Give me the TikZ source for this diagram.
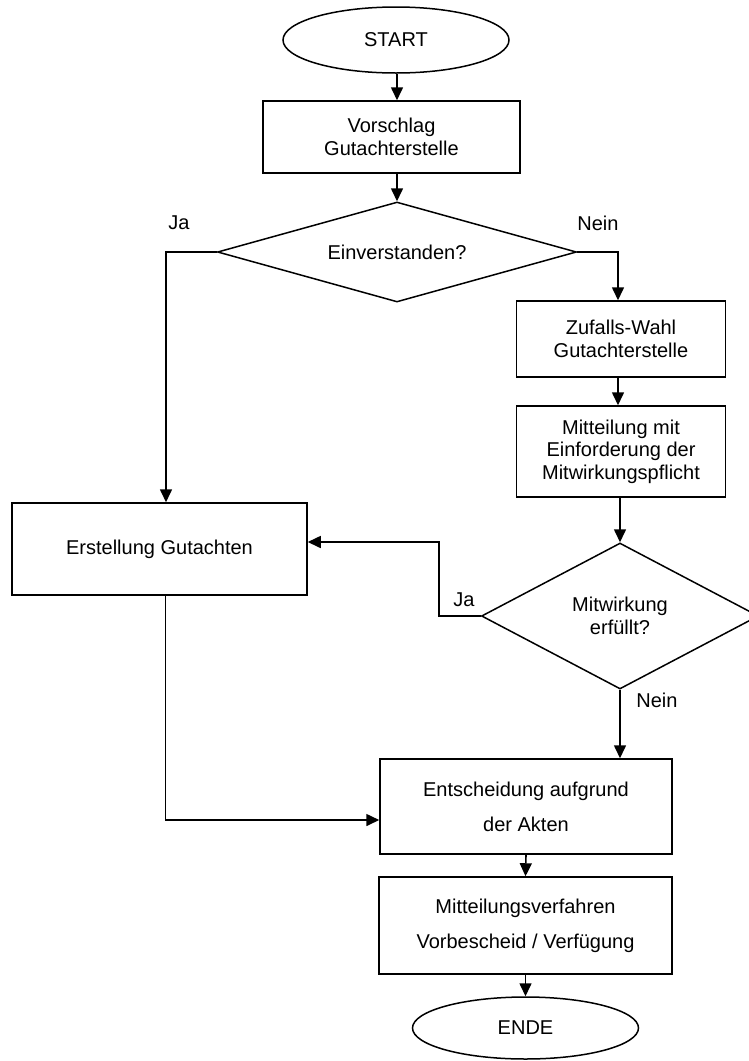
\documentclass[tikz,border=0pt]{standalone}
\usepackage{fontspec}
\setmainfont{Liberation Sans}
\usetikzlibrary{arrows.meta,shapes.geometric}
\begin{document}
\begin{tikzpicture}[x=1pt,y=-1pt,
  line width=1.6pt,
  base/.style={draw, line width=1.5pt, inner sep=0pt, align=center,
    font=\fontsize{20}{22.5}\selectfont},
  box/.style={base, rectangle},
  term/.style={base, ellipse},
  dec/.style={base, diamond},
  lbl/.style={inner sep=0pt, font=\fontsize{20}{22.5}\selectfont},
  arr/.style={-{Triangle[length=13pt,width=12pt]}}]
\clip (0,0) rectangle (749,1061);
\fill[white] (0,0) rectangle (749,1061);

\node[term, minimum width=226pt, minimum height=66pt] (start) at (396,40) {START};
\node[box, minimum width=257pt, minimum height=72pt] (vor) at (391.5,137) {Vorschlag\\Gutachterstelle};
\node[dec, aspect=3.6, minimum width=359pt, minimum height=100pt] (d1) at (397,252) {Einverstanden?};
\node[box, minimum width=209pt, minimum height=76pt] (zuf) at (621,339) {Zufalls-Wahl\\Gutachterstelle};
\node[box, minimum width=209pt, minimum height=91pt] (mit) at (621,451.5) {Mitteilung mit\\Einforderung der\\Mitwirkungspflicht};
\node[dec, aspect=1.9, minimum width=277pt, minimum height=146pt] (d2) at (620,616) {Mitwirkung\\erfüllt?};
\node[box, minimum width=295pt, minimum height=92pt] (erst) at (159.5,549) {Erstellung Gutachten};
\node[box, font=\fontsize{20}{35}\selectfont, minimum width=292pt, minimum height=95pt] (ent) at (526,806.5) {Entscheidung aufgrund\\der Akten};
\node[box, font=\fontsize{20}{35}\selectfont, minimum width=293pt, minimum height=97pt] (mv) at (525.5,925.5) {Mitteilungsverfahren\\Vorbescheid / Verfügung};
\node[term, minimum width=226pt, minimum height=62pt] (ende) at (525.5,1028) {ENDE};

\node[lbl] (ja1) at (179,223) {Ja};
\node[lbl] (nein1) at (598,223) {Nein};
\node[lbl] (ja2) at (464,600) {Ja};
\node[lbl] (nein2) at (657,700) {Nein};

\draw[arr] ([xshift=1pt]start.south) -- ([xshift=1pt]start.south |- vor.north);
\draw[arr] (d1.north |- vor.south) -- (d1.north);
\draw[arr] (d1.west) -| ([xshift=6.5pt]erst.north);
\draw[arr] (d1.east) -| ([xshift=-3pt]zuf.north);
\draw[arr] ([xshift=-3pt]zuf.south) -- ([xshift=-3pt]mit.north);
\draw[arr] (d2.north |- mit.south) -- (d2.north);
\draw[arr] (d2.west) -- ++(-42,0) |- ([yshift=7pt]erst.east);
\draw[arr] (d2.south) -- (d2.south |- ent.north);
\draw[arr] ([xshift=6pt]erst.south) |- ([yshift=-13.5pt]ent.west);
\draw[arr] (ent.south) -- (mv.north);
\draw[arr] (mv.south) -- (ende.north);
\end{tikzpicture}
\end{document}
